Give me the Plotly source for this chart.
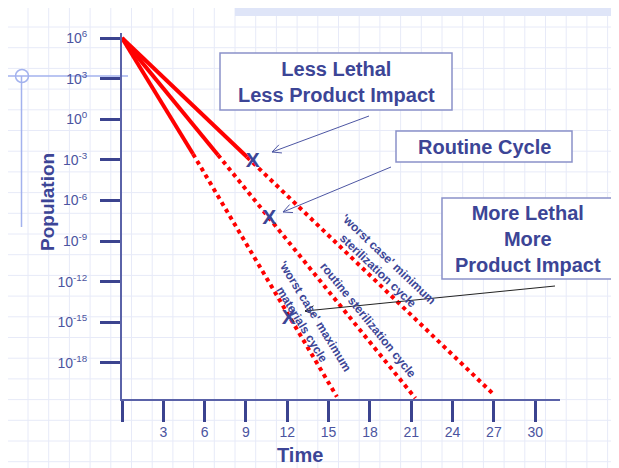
import math
import plotly.graph_objects as go
import numpy as np

# ---------------- data ----------------
cycle_names = ["'worst case' minimum sterilization cycle",
               "routine sterilization cycle",
               "'worst case' maximum materials cycle"]
start_time = [0.0, 0.0, 0.0]
start_exp = [6.0, 6.0, 6.0]              # log10(population)
solid_end_time = [9.08, 6.97, 5.16]
solid_end_exp = [-2.79, -2.64, -2.57]
dotted_end_time = [26.9, 21.3, 15.6]
dotted_end_exp = [-20.24, -20.6, -20.49]
mark_time = [9.5, 10.7, 12.1]
mark_exp = [-3.16, -7.37, -14.7]

x_tick_vals = [0, 3, 6, 9, 12, 15, 18, 21, 24, 27, 30]
x_tick_text = ["", "3", "6", "9", "12", "15", "18", "21", "24", "27", "30"]
y_tick_exps = [6, 3, 0, -3, -6, -9, -12, -15, -18]
y_tick_text = ["10<sup>%d</sup>" % e for e in y_tick_exps]

NAVY = "#3c4596"
TICKC = "#3b438f"
LABELC = "#4b54a0"
RED = "#ff0000"
FONT = "Arial, Liberation Sans, sans-serif"

fig = go.Figure()

for i in range(3):
    fig.add_trace(go.Scatter(
        x=[start_time[i], solid_end_time[i]],
        y=[10.0 ** start_exp[i], 10.0 ** solid_end_exp[i]],
        mode="lines", line=dict(color=RED, width=4), showlegend=False,
        hoverinfo="skip"))
    fig.add_trace(go.Scatter(
        x=[solid_end_time[i], dotted_end_time[i]],
        y=[10.0 ** solid_end_exp[i], 10.0 ** dotted_end_exp[i]],
        mode="lines", line=dict(color=RED, width=4, dash="4px,4px"),
        showlegend=False, hoverinfo="skip"))

fig.add_trace(go.Scatter(
    x=mark_time, y=[10.0 ** e for e in mark_exp], mode="text", text=["<b>X</b>"] * 3,
    textposition="middle center",
    textfont=dict(family=FONT, size=21, color=NAVY, weight="bold"),
    showlegend=False, hoverinfo="skip"))

# ---------------- layout helpers (page pixel -> paper) ----------------
# the page body has an 8px margin, so the figure starts at page pixel (8, 8)
OFF = 8
PAGE_W, PAGE_H = 619, 468
L, R, T, B = 122, 560, 33, 399          # plot area in page pixels
W, H = R - L, B - T


def px(x):
    return (x - L) / W


def py(y):
    return (B - y) / H


def seg(x0, y0, x1, y1, color, width, layer="above"):
    return dict(type="line", xref="paper", yref="paper", x0=px(x0), x1=px(x1),
                y0=py(y0), y1=py(y1), line=dict(color=color, width=width), layer=layer)


shapes = []
GRID = "#e7eaf8"
k = 0
while 7.3 + 20.7 * k <= PAGE_W:
    xx = 7.3 + 20.7 * k
    if xx >= OFF:
        shapes.append(seg(xx, OFF, xx, PAGE_H, GRID, 1, "below"))
    k += 1
k = 0
while 6.3 + 20.7 * k <= PAGE_H:
    yy = 6.3 + 20.7 * k
    if yy >= OFF:
        shapes.append(seg(OFF, yy, PAGE_W, yy, GRID, 1, "below"))
    k += 1

# top band and right edge decoration
shapes.append(dict(type="rect", xref="paper", yref="paper", x0=px(235), x1=px(617),
                   y0=py(16), y1=py(8), fillcolor="#dfe5f8", line=dict(width=0), layer="below"))
shapes.append(seg(617, 8, 617, 165, "#c5cdf3", 2, "below"))
# left decoration
DEC = "#a3b2ee"
shapes.append(seg(8, 76, 128, 76, DEC, 1.5, "below"))
shapes.append(seg(21.5, 76, 21.5, 227, DEC, 1.5, "below"))
shapes.append(dict(type="circle", xref="paper", yref="paper", x0=px(15.5), x1=px(28.5),
                   y0=py(69.5), y1=py(82.5), line=dict(color=DEC, width=1.5), layer="below"))

# callout boxes
BOXC = "#8a91c9"
for (x0, y0, x1, y1) in [(220, 53, 452, 110), (396, 131, 572, 162), (442, 198, 613, 279)]:
    shapes.append(dict(type="rect", xref="paper", yref="paper", x0=px(x0), x1=px(x1),
                       y0=py(y1), y1=py(y0), fillcolor="white",
                       line=dict(color=BOXC, width=1.5), layer="above"))

# pointer arrows with open heads
for (tx, ty, hx, hy, col) in [(369, 116, 272, 152, "#4d56a3"),
                              (391, 167, 283, 212, "#4d56a3"),
                              (555, 286, 305, 311, "#222222")]:
    shapes.append(seg(tx, ty, hx, hy, col, 1))
    ang = math.atan2(ty - hy, tx - hx)
    for d in (0.45, -0.45):
        bx = hx + 10 * math.cos(ang + d)
        by = hy + 10 * math.sin(ang + d)
        shapes.append(seg(hx, hy, bx, by, col, 1))

annotations = []
for txt, cx, cy in [("Less Lethal<br>Less Product Impact", 336, 82),
                    ("Routine Cycle", 484, 146.5),
                    ("More Lethal<br>More<br>Product Impact", 527.5, 239)]:
    annotations.append(dict(text="<b>%s</b>" % txt, xref="paper", yref="paper",
                            x=px(cx), y=py(cy), xanchor="center", yanchor="middle",
                            showarrow=False, align="center",
                            font=dict(family=FONT, size=20, color=NAVY)))

# rotated labels along lines
for txt, cx, cy, ang in [("'worst case' minimum<br>sterilization cycle", 383, 265, 43.6),
                         ("routine sterilization cycle", 368, 320, 50.9),
                         ("'worst case' maximum<br>materials cycle", 308, 320, 58.5)]:
    annotations.append(dict(text="<b>%s</b>" % txt, xref="paper", yref="paper",
                            x=px(cx), y=py(cy), xanchor="center", yanchor="middle",
                            showarrow=False, textangle=ang, align="center",
                            font=dict(family=FONT, size=12, color=NAVY)))

# axis titles
annotations.append(dict(text="<b>Population</b>", xref="paper", yref="paper",
                        x=px(48), y=py(202), xanchor="center", yanchor="middle",
                        showarrow=False, textangle=-90,
                        font=dict(family=FONT, size=19, color=NAVY)))
annotations.append(dict(text="<b>Time</b>", xref="paper", yref="paper",
                        x=px(300), y=py(455), xanchor="center", yanchor="middle",
                        showarrow=False, font=dict(family=FONT, size=20, color=NAVY)))

fig.update_layout(
    width=PAGE_W - OFF, height=PAGE_H - OFF, autosize=False,
    margin=dict(l=L - OFF, r=PAGE_W - R, t=T - OFF, b=PAGE_H - B, pad=0),
    paper_bgcolor="white", plot_bgcolor="rgba(0,0,0,0)",
    shapes=shapes, annotations=annotations, showlegend=False,
    xaxis=dict(range=[0, 31.8], showline=True, linecolor="#5a62a8", linewidth=2,
               ticks="outside", ticklen=21, tickwidth=3, tickcolor=TICKC,
               tickvals=x_tick_vals, ticktext=x_tick_text, showgrid=False, zeroline=False,
               tickfont=dict(family=FONT, size=14, color=LABELC), ticklabelstandoff=-2),
    yaxis=dict(type="log", range=[-20.66, 6.37], showline=True, linecolor="#5a62a8",
               linewidth=2, ticks="outside", ticklen=20, tickwidth=3, tickcolor=TICKC,
               tickvals=[10.0 ** e for e in y_tick_exps], ticktext=y_tick_text,
               showgrid=False, zeroline=False, ticklabelstandoff=10,
               tickfont=dict(family=FONT, size=14, color=LABELC)),
)

fig.write_html("out.html")
